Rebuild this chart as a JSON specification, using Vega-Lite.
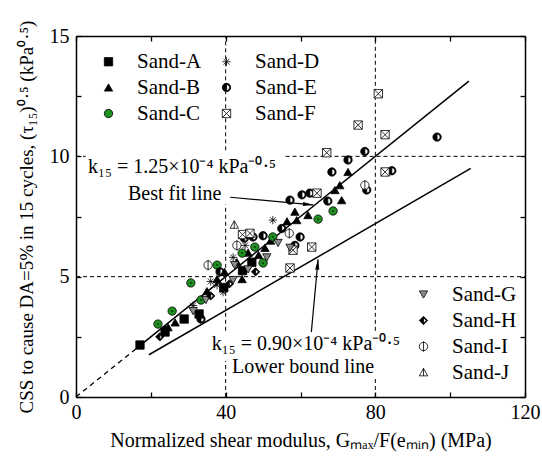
{
  "$schema": "https://vega.github.io/schema/vega-lite/v6.json",
  "width": 449,
  "height": 361,
  "autosize": {"type": "none"},
  "padding": {"left": 76, "top": 36, "right": 17, "bottom": 67},
  "background": "white",
  "config": {
    "view": {"stroke": null},
    "font": "Liberation Serif",
    "axis": {
      "domainColor": "black", "domainWidth": 1.5, "tickColor": "black", "tickWidth": 1.3,
      "labelFont": "Liberation Serif", "labelFontSize": 20, "labelColor": "black",
      "titleFont": "Liberation Serif", "titleFontSize": 19, "titleFontWeight": "normal", "titleColor": "black",
      "grid": false, "labelOverlap": false, "labelFlush": false
    },
    "legend": {"labelFont": "Liberation Serif", "labelFontSize": 21, "labelColor": "black"}
  },
  "datasets": {
    "pts": [
      {"sand": "Sand-A", "x": 17.1, "y": 2.16}, {"sand": "Sand-A", "x": 23.8, "y": 2.7}, {"sand": "Sand-A", "x": 28.9, "y": 3.24},
      {"sand": "Sand-A", "x": 32.9, "y": 3.45}, {"sand": "Sand-A", "x": 39.5, "y": 4.55}, {"sand": "Sand-A", "x": 44.5, "y": 5.25},
      {"sand": "Sand-A", "x": 47, "y": 5.6},
      {"sand": "Sand-B", "x": 24.6, "y": 2.9}, {"sand": "Sand-B", "x": 26.5, "y": 3.1}, {"sand": "Sand-B", "x": 35, "y": 4.4},
      {"sand": "Sand-B", "x": 37.7, "y": 4.9}, {"sand": "Sand-B", "x": 39.7, "y": 5.2}, {"sand": "Sand-B", "x": 43, "y": 5.6},
      {"sand": "Sand-B", "x": 44.4, "y": 4.9}, {"sand": "Sand-B", "x": 46, "y": 6.0}, {"sand": "Sand-B", "x": 48.8, "y": 5.9},
      {"sand": "Sand-B", "x": 50.5, "y": 6.2}, {"sand": "Sand-B", "x": 52, "y": 6.5}, {"sand": "Sand-B", "x": 56.4, "y": 7.3},
      {"sand": "Sand-B", "x": 58.5, "y": 7.7}, {"sand": "Sand-B", "x": 59, "y": 7.35}, {"sand": "Sand-B", "x": 62, "y": 7.56},
      {"sand": "Sand-B", "x": 69.2, "y": 8.6}, {"sand": "Sand-B", "x": 70.5, "y": 8.8}, {"sand": "Sand-B", "x": 71, "y": 8.18},
      {"sand": "Sand-B", "x": 72.7, "y": 9.35},
      {"sand": "Sand-C", "x": 21.9, "y": 3.03}, {"sand": "Sand-C", "x": 25.7, "y": 3.57}, {"sand": "Sand-C", "x": 30.7, "y": 4.74},
      {"sand": "Sand-C", "x": 33.4, "y": 4.03}, {"sand": "Sand-C", "x": 37.7, "y": 5.48}, {"sand": "Sand-C", "x": 44.4, "y": 5.98},
      {"sand": "Sand-C", "x": 47.8, "y": 6.23}, {"sand": "Sand-C", "x": 50, "y": 5.57}, {"sand": "Sand-C", "x": 52.6, "y": 6.65},
      {"sand": "Sand-C", "x": 64.7, "y": 7.39}, {"sand": "Sand-C", "x": 68.7, "y": 7.73},
      {"sand": "Sand-D", "x": 31.3, "y": 3.8}, {"sand": "Sand-D", "x": 36, "y": 4.8}, {"sand": "Sand-D", "x": 37.7, "y": 4.65},
      {"sand": "Sand-D", "x": 39.3, "y": 4.36}, {"sand": "Sand-D", "x": 42, "y": 5.8}, {"sand": "Sand-D", "x": 45.2, "y": 6.3},
      {"sand": "Sand-D", "x": 52.6, "y": 7.35},
      {"sand": "Sand-E", "x": 33.4, "y": 3.24}, {"sand": "Sand-E", "x": 38.5, "y": 5.2}, {"sand": "Sand-E", "x": 45, "y": 6.6},
      {"sand": "Sand-E", "x": 47.3, "y": 6.65}, {"sand": "Sand-E", "x": 50, "y": 6.7}, {"sand": "Sand-E", "x": 55, "y": 7.0},
      {"sand": "Sand-E", "x": 57.2, "y": 8.18}, {"sand": "Sand-E", "x": 58.5, "y": 6.3}, {"sand": "Sand-E", "x": 59.9, "y": 6.65},
      {"sand": "Sand-E", "x": 60.4, "y": 8.4}, {"sand": "Sand-E", "x": 62.5, "y": 8.47}, {"sand": "Sand-E", "x": 67.3, "y": 8.14},
      {"sand": "Sand-E", "x": 68.4, "y": 9.35}, {"sand": "Sand-E", "x": 72.7, "y": 9.85}, {"sand": "Sand-E", "x": 77.2, "y": 10.2},
      {"sand": "Sand-E", "x": 77.7, "y": 8.6}, {"sand": "Sand-E", "x": 84.4, "y": 9.4}, {"sand": "Sand-E", "x": 96.5, "y": 10.8},
      {"sand": "Sand-F", "x": 44.5, "y": 6.75}, {"sand": "Sand-F", "x": 46.5, "y": 6.8}, {"sand": "Sand-F", "x": 57.2, "y": 5.36},
      {"sand": "Sand-F", "x": 58, "y": 6.1}, {"sand": "Sand-F", "x": 63, "y": 6.23}, {"sand": "Sand-F", "x": 64.4, "y": 8.47},
      {"sand": "Sand-F", "x": 67, "y": 10.15}, {"sand": "Sand-F", "x": 75.4, "y": 11.3}, {"sand": "Sand-F", "x": 80.8, "y": 12.6},
      {"sand": "Sand-F", "x": 82.6, "y": 10.9}, {"sand": "Sand-F", "x": 82.6, "y": 9.35},
      {"sand": "Sand-G", "x": 31.3, "y": 3.57}, {"sand": "Sand-G", "x": 34.7, "y": 4.03}, {"sand": "Sand-G", "x": 42, "y": 4.86},
      {"sand": "Sand-G", "x": 42.4, "y": 5.48}, {"sand": "Sand-G", "x": 46, "y": 5.3}, {"sand": "Sand-G", "x": 51, "y": 5.8},
      {"sand": "Sand-G", "x": 54, "y": 6.4}, {"sand": "Sand-G", "x": 57.2, "y": 6.2},
      {"sand": "Sand-H", "x": 22.4, "y": 2.5}, {"sand": "Sand-H", "x": 23.8, "y": 2.8}, {"sand": "Sand-H", "x": 36, "y": 4.2},
      {"sand": "Sand-H", "x": 41, "y": 4.7}, {"sand": "Sand-H", "x": 48, "y": 5.2},
      {"sand": "Sand-I", "x": 35.3, "y": 5.48}, {"sand": "Sand-I", "x": 43, "y": 6.3}, {"sand": "Sand-I", "x": 57, "y": 6.8},
      {"sand": "Sand-I", "x": 77.2, "y": 8.8},
      {"sand": "Sand-J", "x": 42.3, "y": 7.15}
    ],
    "grid": [
      {"x": 40, "x2": 40, "y": 0, "y2": 1.5}, {"x": 40, "x2": 40, "y": 2.75, "y2": 8.0}, {"x": 40, "x2": 40, "y": 10.25, "y2": 15},
      {"x": 80, "x2": 80, "y": 0, "y2": 0.75}, {"x": 80, "x2": 80, "y": 2.75, "y2": 15},
      {"x": 0, "x2": 120, "y": 5, "y2": 5},
      {"x": 0, "x2": 2.6, "y": 10, "y2": 10}, {"x": 56, "x2": 120, "y": 10, "y2": 10}
    ],
    "fits": [
      {"g": "fit", "x": 17, "y": 2.125}, {"g": "fit", "x": 105, "y": 13.125},
      {"g": "lower", "x": 19.5, "y": 1.755}, {"g": "lower", "x": 105.5, "y": 9.5}
    ],
    "dash": [{"x": 0, "y": 0}, {"x": 17, "y": 2.125}],
    "labels": [
      {"t": "k₁₅ = 1.25×10⁻⁴ kPa⁻⁰·⁵", "x": 3.2, "y": 9.55},
      {"t": "Best fit line", "x": 13.9, "y": 8.45},
      {"t": "k₁₅ = 0.90×10⁻⁴ kPa⁻⁰·⁵", "x": 36.3, "y": 2.22},
      {"t": "Lower bound line", "x": 41.7, "y": 1.24}
    ],
    "arrows": [
      {"x": 41.2, "y": 8.3, "x2": 63.4, "y2": 7.98},
      {"x": 62.9, "y": 2.7, "x2": 64.7, "y2": 5.72}
    ],
    "head1": [{"x": 62.07, "y": 8.0}],
    "head2": [{"x": 64.58, "y": 5.51}]
  },
  "layer": [
    {
      "data": {"name": "grid"},
      "mark": {"type": "rule", "color": "black", "strokeWidth": 1, "strokeDash": [4, 3]},
      "encoding": {
        "x": {"field": "x", "type": "quantitative", "scale": {"domain": [0, 120], "nice": false, "zero": false},
          "axis": {"orient": "bottom", "values": [0, 20, 40, 60, 80, 100, 120], "format": "d",
            "labelExpr": "datum.value % 40 === 0 ? datum.label : ''", "tickSize": -5, "labelPadding": 10,
            "title": "Normalized shear modulus, Gₘₐₓ/F(eₘᵢₙ) (MPa)", "titleFontSize": 20, "titlePadding": 8}},
        "x2": {"field": "x2"},
        "y": {"field": "y", "type": "quantitative", "scale": {"domain": [0, 15], "nice": false, "zero": false},
          "axis": {"orient": "left", "values": [0, 2.5, 5, 7.5, 10, 12.5, 15],
            "labelExpr": "datum.value % 5 === 0 ? format(datum.value, 'd') : ''", "tickSize": -5, "labelPadding": 12,
            "title": "CSS to cause DA=5% in 15 cycles, (τ₁₅)⁰·⁵ (kPa⁰·⁵)", "titlePadding": 13}},
        "y2": {"field": "y2"}
      }
    },
    {
      "data": {"name": "fits"},
      "mark": {"type": "line", "color": "black", "strokeWidth": 1.5},
      "encoding": {
        "x": {"field": "x", "type": "quantitative", "scale": {"domain": [0, 120], "nice": false, "zero": false},
          "axis": {"orient": "top", "values": [0, 20, 40, 60, 80, 100, 120], "labels": false, "tickSize": -5, "title": null}},
        "y": {"field": "y", "type": "quantitative", "scale": {"domain": [0, 15], "nice": false, "zero": false},
          "axis": {"orient": "right", "values": [0, 2.5, 5, 7.5, 10, 12.5, 15], "labels": false, "tickSize": -5, "title": null}},
        "detail": {"field": "g"}
      }
    },
    {
      "data": {"name": "dash"},
      "mark": {"type": "line", "color": "black", "strokeWidth": 1.3, "strokeDash": [5, 4]},
      "encoding": {
        "x": {"field": "x", "type": "quantitative", "axis": null},
        "y": {"field": "y", "type": "quantitative", "axis": null}
      }
    },
    {
      "data": {"name": "arrows"},
      "mark": {"type": "rule", "color": "black", "strokeWidth": 1.2},
      "encoding": {
        "x": {"field": "x", "type": "quantitative", "axis": null},
        "x2": {"field": "x2"},
        "y": {"field": "y", "type": "quantitative", "axis": null},
        "y2": {"field": "y2"}
      }
    },
    {
      "data": {"name": "head1"},
      "mark": {"type": "point", "shape": "M0,-1L0.4,1L-0.4,1Z", "size": 110, "filled": true, "color": "black", "opacity": 1, "angle": 95},
      "encoding": {
        "x": {"field": "x", "type": "quantitative", "axis": null},
        "y": {"field": "y", "type": "quantitative", "axis": null}
      }
    },
    {
      "data": {"name": "head2"},
      "mark": {"type": "point", "shape": "M0,-1L0.4,1L-0.4,1Z", "size": 110, "filled": true, "color": "black", "opacity": 1, "angle": 5},
      "encoding": {
        "x": {"field": "x", "type": "quantitative", "axis": null},
        "y": {"field": "y", "type": "quantitative", "axis": null}
      }
    },
    {
      "data": {"name": "labels"},
      "mark": {"type": "text", "align": "left", "baseline": "middle", "font": "Liberation Serif", "fontSize": 20, "color": "black"},
      "encoding": {
        "x": {"field": "x", "type": "quantitative", "axis": null},
        "y": {"field": "y", "type": "quantitative", "axis": null},
        "text": {"field": "t"}
      }
    },
    {
      "data": {"name": "pts"},
      "transform": [{"filter": {"field": "sand", "oneOf": ["Sand-A", "Sand-B", "Sand-C", "Sand-D", "Sand-E", "Sand-F"]}}],
      "mark": {"type": "point", "filled": true, "size": 70, "strokeWidth": 0.8, "opacity": 1},
      "encoding": {
        "x": {"field": "x", "type": "quantitative", "axis": null},
        "y": {"field": "y", "type": "quantitative", "axis": null},
        "shape": {"field": "sand", "type": "nominal",
          "scale": {"domain": ["Sand-A", "Sand-B", "Sand-C", "Sand-D", "Sand-E", "Sand-F"],
            "range": ["square", "triangle-up", "circle", "M0,-1L0,1M-1,0L1,0M-0.7,-0.7L0.7,0.7M-0.7,0.7L0.7,-0.7",
              "M0,-1A1,1,0,1,1,0,1A1,1,0,1,1,0,-1ZM0,-0.72A0.72,0.72,0,1,0,0,0.72A0.72,0.72,0,1,0,0,-0.72ZM0,0.72A0.72,0.72,0,0,1,0,-0.72Z",
              "M-1,-1L1,-1L1,1L-1,1ZM-1,-1L1,1M1,-1L-1,1"]},
          "legend": {"orient": "none", "legendX": 22, "legendY": 15, "offset": 0, "columns": 2, "title": null, "padding": 0,
            "symbolSize": 70, "symbolStrokeWidth": 0.8, "labelOffset": 18, "rowPadding": 4, "columnPadding": 14,
            "labelFontSize": 21, "labelFont": "Liberation Serif", "labelColor": "black"}},
        "fill": {"field": "sand", "type": "nominal",
          "scale": {"domain": ["Sand-A", "Sand-B", "Sand-C", "Sand-D", "Sand-E", "Sand-F"],
            "range": ["black", "black", "#1f8f1f", "white", "black", "white"]}},
        "stroke": {"field": "sand", "type": "nominal",
          "scale": {"domain": ["Sand-A", "Sand-B", "Sand-C", "Sand-D", "Sand-E", "Sand-F"],
            "range": ["black", "black", "black", "black", "black", "black"]}}
      }
    },
    {
      "data": {"name": "pts"},
      "transform": [{"filter": {"field": "sand", "equal": "Sand-C"}}],
      "mark": {"type": "circle", "size": 4, "color": "#0a3a0a", "opacity": 1},
      "encoding": {
        "x": {"field": "x", "type": "quantitative", "axis": null},
        "y": {"field": "y", "type": "quantitative", "axis": null}
      }
    },
    {
      "data": {"name": "pts"},
      "transform": [{"filter": {"field": "sand", "oneOf": ["Sand-G", "Sand-H", "Sand-I", "Sand-J"]}}],
      "mark": {"type": "point", "filled": true, "size": 70, "strokeWidth": 0.8, "opacity": 1},
      "encoding": {
        "x": {"field": "x", "type": "quantitative", "axis": null},
        "y": {"field": "y", "type": "quantitative", "axis": null},
        "shape": {"field": "sand", "type": "nominal",
          "scale": {"domain": ["Sand-G", "Sand-H", "Sand-I", "Sand-J"],
            "range": ["triangle-down",
              "M0,-1L1,0L0,1L-1,0ZM0,-0.65L-0.65,0L0,0.65L0.65,0ZM0,0.65L-0.65,0L0,-0.65Z",
              "M0,-1A1,1,0,1,1,0,1A1,1,0,1,1,0,-1ZM0,-1.25L0,1.25",
              "M0,-1L1,0.8L-1,0.8ZM0,-1L0,0.8"]},
          "legend": {"orient": "none", "legendX": 337, "legendY": 248, "offset": 0, "columns": 1, "title": null, "padding": 0,
            "symbolSize": 70, "symbolStrokeWidth": 0.8, "labelOffset": 18, "rowPadding": 4,
            "labelFontSize": 21, "labelFont": "Liberation Serif", "labelColor": "black"}},
        "fill": {"field": "sand", "type": "nominal",
          "scale": {"domain": ["Sand-G", "Sand-H", "Sand-I", "Sand-J"], "range": ["#8c8c8c", "black", "white", "white"]}},
        "stroke": {"field": "sand", "type": "nominal",
          "scale": {"domain": ["Sand-G", "Sand-H", "Sand-I", "Sand-J"], "range": ["black", "black", "black", "black"]}}
      }
    }
  ],
  "resolve": {
    "scale": {"shape": "independent", "fill": "independent", "stroke": "independent"},
    "axis": {"x": "independent", "y": "independent"}
  }
}
